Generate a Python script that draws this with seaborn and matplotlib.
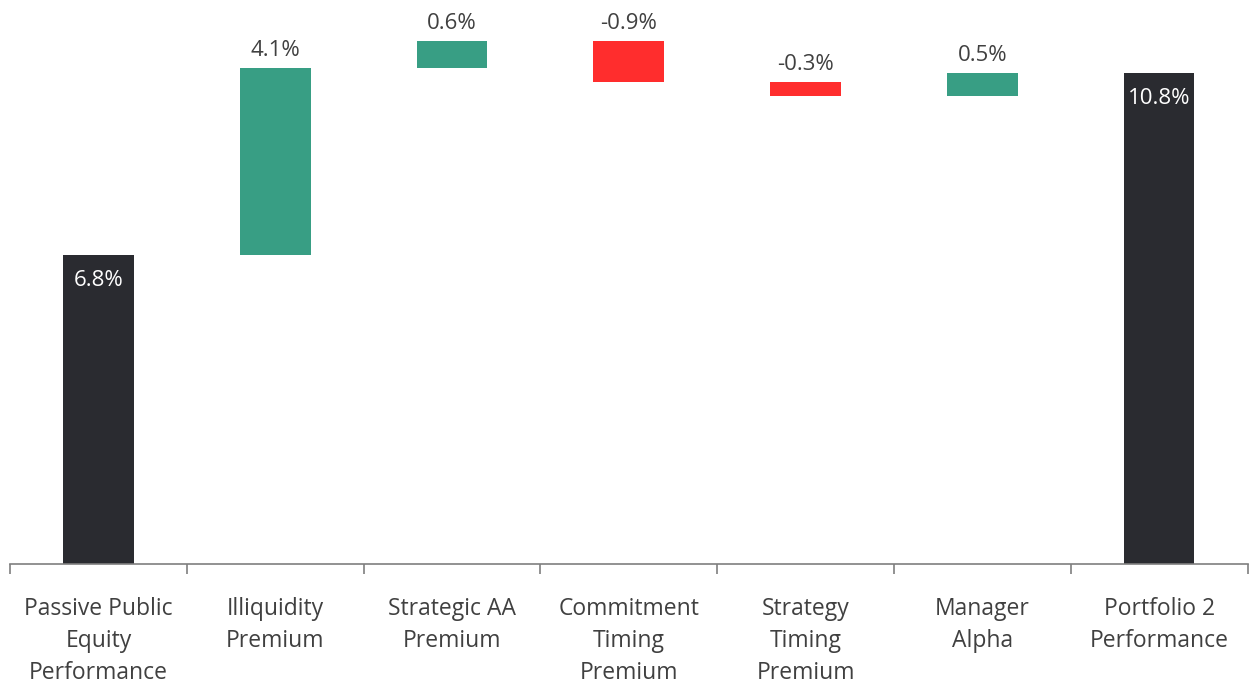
import numpy as np
import pandas as pd
import seaborn as sns
import matplotlib.pyplot as plt

# waterfall data (percent)
categories = ['Passive Public\nEquity\nPerformance', 'Illiquidity\nPremium', 'Strategic AA\nPremium',
              'Commitment\nTiming\nPremium', 'Strategy\nTiming\nPremium', 'Manager\nAlpha',
              'Portfolio 2\nPerformance']
changes = [6.8, 4.1, 0.6, -0.9, -0.3, 0.5, 10.8]
is_total = [True, False, False, False, False, False, True]

dark = '#2a2b30'
green = '#389e84'
red = '#ff2d2d'
text_col = '#404040'

# compute bar bottoms / heights
bottoms, heights, colors = [], [], []
running = 0.0
for val, tot in zip(changes, is_total):
    if tot:
        bottoms.append(0.0)
        heights.append(val)
        colors.append(dark)
        running = val
    else:
        start = running
        end = running + val
        bottoms.append(min(start, end))
        heights.append(abs(val))
        colors.append(green if val >= 0 else red)
        running = end

df = pd.DataFrame({'cat': categories, 'height': heights, 'bottom': bottoms})

sns.set_style('white')
plt.rcParams['font.family'] = ['Open Sans', 'DejaVu Sans']

fig, ax = plt.subplots(figsize=(12.5, 6.83), dpi=100)
fig.subplots_adjust(left=0.008, right=0.998, top=1.0, bottom=0.174)

# one call without hue so bottom lines up with each bar
sns.barplot(data=df, x='cat', y='height', bottom=df['bottom'].values, width=0.4,
            ax=ax, saturation=1, linewidth=0, color=dark)
for patch, c in zip(ax.patches, colors):
    patch.set_facecolor(c)
    patch.set_edgecolor(c)

for i, (val, tot, b, h) in enumerate(zip(changes, is_total, bottoms, heights)):
    if tot:
        ax.text(i, b + h - 0.33, f'{val:.1f}%', ha='center', va='top', color='white', fontsize=16)
    else:
        ax.text(i, b + h + 0.16, f'{val:.1f}%', ha='center', va='bottom', color=text_col, fontsize=16)

ax.set_ylim(0, 12.4)
ax.set_xlim(-0.5, len(categories) - 0.5)
ax.set_yticks([])
ax.set_xlabel('')
ax.set_ylabel('')
for s in ['top', 'right', 'left']:
    ax.spines[s].set_visible(False)
ax.spines['bottom'].set_color('#7f7f7f')
ax.spines['bottom'].set_linewidth(1.2)

ax.set_xticks(np.arange(len(categories)))
ax.set_xticklabels(categories, fontsize=16.5, color=text_col, linespacing=1.42)
ax.set_xticks(np.arange(-0.5, len(categories)), minor=True)
ax.tick_params(axis='x', which='major', bottom=False, length=0, pad=24)
ax.tick_params(axis='x', which='minor', bottom=True, length=7, width=1.2, color='#7f7f7f', direction='out')

fig.savefig('out.png', dpi=100)
